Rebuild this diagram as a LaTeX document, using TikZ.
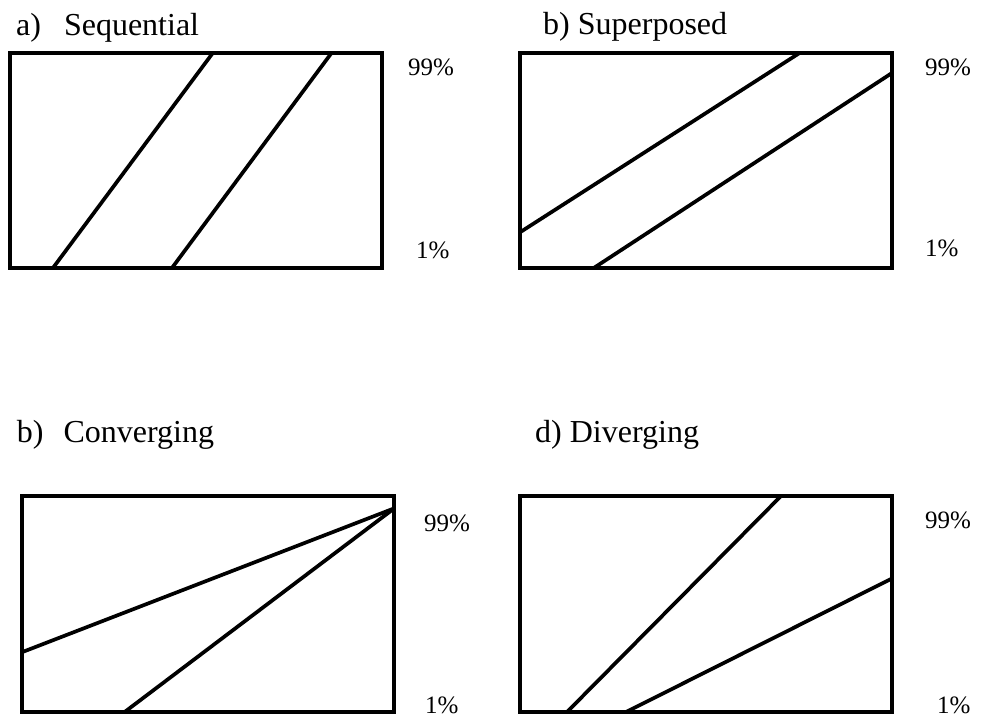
\documentclass[tikz,border=0pt]{standalone}
\usepackage{fontspec}
\setmainfont{Liberation Serif}
\begin{document}
\begin{tikzpicture}[x=1pt,y=-1pt,
  frame/.style={line width=4pt,line join=miter},
  curve/.style={line width=3.7pt},
  title/.style={anchor=base west,inner sep=0pt,font=\fontsize{32}{36}\selectfont},
  pct/.style={anchor=base west,inner sep=0pt,font=\fontsize{25}{30}\selectfont}]
\useasboundingbox (0,0) rectangle (981,720);
% panel a
\coordinate (a1) at (10,52.7); \coordinate (a2) at (381.5,268.3);
\draw[frame] (a1) rectangle (a2);
\coordinate (aL1b) at (52.7,268.3); \coordinate (aL1t) at (213,52.7);
\coordinate (aL2b) at (171.7,268.3); \coordinate (aL2t) at (331.7,52.7);
\draw[curve] (aL1b) -- (aL1t);
\draw[curve] (aL2b) -- (aL2t);
\node[title] (ta) at (16,35) {a)\hspace{23pt}Sequential};
\node[pct] (a99) at (408,75) {99\%};
\node[pct] (a1p) at (416,258) {1\%};
% panel b
\coordinate (b1) at (520,52.7); \coordinate (b2) at (891.5,268.3);
\draw[frame] (b1) rectangle (b2);
\coordinate (bL1l) at (520,232.3); \coordinate (bL1t) at (800,52.7);
\coordinate (bL2b) at (593.3,268.3); \coordinate (bL2r) at (891.5,73.3);
\draw[curve] (bL1l) -- (bL1t);
\draw[curve] (bL2b) -- (bL2r);
\node[title] (tb) at (543,34.5) {b) Superposed};
\node[pct] (b99) at (925,75) {99\%};
\node[pct] (b1p) at (925,256.7) {1\%};
% panel c
\coordinate (c1) at (21.7,496); \coordinate (c2) at (394.3,711.7);
\draw[frame] (c1) rectangle (c2);
\coordinate (cL1l) at (21.7,652.3); \coordinate (cM) at (394.3,508.3);
\coordinate (cL2b) at (125,711.7);
\draw[curve] (cL1l) -- (cM);
\draw[curve] (cL2b) -- (cM);
\node[title] (tc) at (16.7,442.7) {b)\hspace{20pt}Converging};
\node[pct] (c99) at (424,531.7) {99\%};
\node[pct] (c1p) at (425,713) {1\%};
% panel d
\coordinate (d1) at (520,496); \coordinate (d2) at (892.3,711.7);
\draw[frame] (d1) rectangle (d2);
\coordinate (dL1b) at (567.3,711.7); \coordinate (dL1t) at (781,496);
\coordinate (dL2b) at (626.7,711.7); \coordinate (dL2r) at (892.3,578.3);
\draw[curve] (dL1b) -- (dL1t);
\draw[curve] (dL2b) -- (dL2r);
\node[title] (td) at (535,442.3) {d) Diverging};
\node[pct] (d99) at (925,528.3) {99\%};
\node[pct] (d1p) at (937,713) {1\%};
\end{tikzpicture}
\end{document}
